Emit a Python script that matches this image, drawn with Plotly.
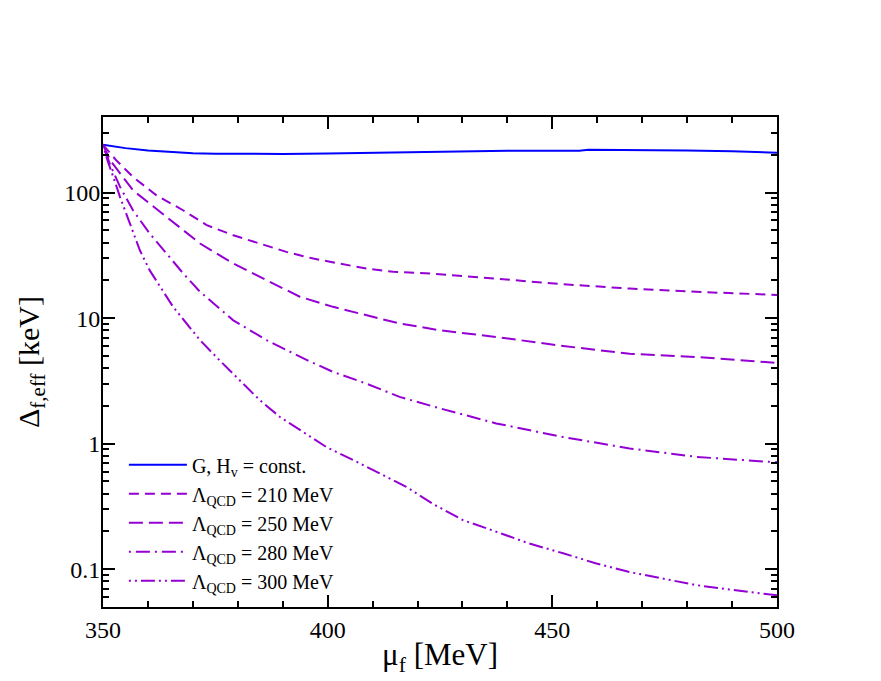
import plotly.graph_objects as go

# G, H_v = const.
mu_const = [350, 355, 360, 365, 370, 375, 380, 390, 400, 410, 420, 430, 433, 434, 436, 437, 440, 450, 456, 458, 460, 470, 480, 490, 500]
delta_const = [240, 226, 216, 210, 206, 204, 203, 203, 205, 208, 211, 213, 213, 216, 214, 216, 215, 215, 215, 219, 219, 218, 216, 213, 208]

# Lambda_QCD = 210 MeV
mu_210 = [350, 353, 356.7, 361.9, 367.9, 373.1, 379, 384.9, 390.8, 396.8, 402.7, 408.6, 414.6, 423.5, 437.5, 452.4, 467.2, 482, 500]
delta_210 = [240, 180, 133, 95, 72, 55, 45.7, 39.3, 33.7, 29.8, 27.2, 24.8, 23.4, 22.6, 20.6, 18.6, 17.2, 16.2, 15.3]

# Lambda_QCD = 250 MeV
mu_250 = [350, 351.6, 356.7, 364.2, 371.6, 379, 386.4, 393.8, 401.2, 408.6, 416, 425, 437.5, 452.4, 467.2, 482, 500]
delta_250 = [240, 181, 104, 64, 39.3, 27.2, 20, 14.8, 12.3, 10.5, 9.06, 8.0, 7.08, 6.0, 5.2, 4.9, 4.4]

# Lambda_QCD = 280 MeV
mu_280 = [350, 351.5, 353.8, 356.7, 360.4, 364.2, 367.9, 371.6, 379, 386.4, 395.3, 401.2, 408.6, 416, 425, 437.5, 452.4, 467.2, 482, 500]
delta_280 = [240, 170, 111, 72, 47.2, 32.7, 22.6, 16.2, 9.6, 6.67, 4.65, 3.73, 3.01, 2.36, 1.91, 1.45, 1.13, 0.916, 0.785, 0.71]

# Lambda_QCD = 300 MeV
mu_300 = [350, 351, 352.3, 353.8, 356, 358.2, 360.4, 362.7, 365.6, 368.6, 371.6, 376, 380.5, 384.9, 389.4, 393.8, 399.7,
          405.7, 411.6, 417.5, 423.5, 430.1, 437.5, 444.9, 452.4, 459.8, 467.2, 474.6, 482, 489.4, 500]
delta_300 = [240, 180, 133, 92, 56.6, 34.7, 24, 17.7, 12.3, 9.06, 6.67, 4.59, 3.2, 2.22, 1.63, 1.28, 0.94,
             0.74, 0.58, 0.453, 0.33, 0.246, 0.199, 0.16, 0.134, 0.111, 0.095, 0.0845, 0.0747, 0.069, 0.062]

y_tickvals = [0.1, 1, 10, 100]
y_ticktext = ["0.1", "1", "10", "100"]
y_minor = [m * 10 ** e for e in range(-2, 3) for m in range(2, 10)]

BLUE = "rgb(0, 0, 255)"
VIOLET = "rgb(148, 0, 211)"
FONT = "Liberation Serif, Times New Roman, DejaVu Serif, serif"

fig = go.Figure()

series = [
    (mu_const, delta_const, "G, H<sub>v</sub> = const.", BLUE, "solid"),
    (mu_210, delta_210, "Λ<sub>QCD</sub> = 210 MeV", VIOLET, "10px,6px"),
    (mu_250, delta_250, "Λ<sub>QCD</sub> = 250 MeV", VIOLET, "14px,6px"),
    (mu_280, delta_280, "Λ<sub>QCD</sub> = 280 MeV", VIOLET, "2px,5px,14px,5px"),
    (mu_300, delta_300, "Λ<sub>QCD</sub> = 300 MeV", VIOLET, "2px,4px,2px,4px,14px,4px"),
]
for x_i, y_i, name, color, dash in series:
    fig.add_trace(
        go.Scatter(
            x=x_i,
            y=y_i,
            mode="lines",
            name=name,
            line={"color": color, "width": 2, "dash": dash},
        )
    )

axis_style = {
    "ticks": "inside",
    "ticklen": 12,
    "tickwidth": 1.5,
    "tickcolor": "black",
    "showline": True,
    "linecolor": "black",
    "linewidth": 2,
    "mirror": "allticks",
    "showgrid": False,
    "zeroline": False,
    "tickfont": {"family": FONT, "size": 24, "color": "black"},
}

fig.update_xaxes(
    range=[350, 500],
    tickvals=[350, 400, 450, 500],
    minor={"dtick": 10, "ticks": "inside", "ticklen": 6, "tickcolor": "black", "tickwidth": 1.5},
    title={"text": "μ<sub>f</sub> [MeV]", "font": {"family": FONT, "size": 31, "color": "black"}, "standoff": 2},
    **axis_style,
)
fig.update_yaxes(
    type="log",
    range=[-1.301, 2.602],
    tickvals=y_tickvals,
    ticktext=y_ticktext,
    ticklabelstandoff=-4,
    minor={"tickvals": y_minor, "ticks": "inside", "ticklen": 6, "tickcolor": "black", "tickwidth": 1.5},
    title={"text": "Δ<sub>f,eff</sub> [keV]", "font": {"family": FONT, "size": 30, "color": "black"}, "standoff": 16},
    **axis_style,
)

# page body adds ~8px offset, so the figure is a bit smaller than the window
fig.update_layout(
    width=873,
    height=673,
    margin={"l": 95, "r": 104, "t": 109, "b": 74, "autoexpand": False},
    plot_bgcolor="white",
    paper_bgcolor="white",
    showlegend=True,
    legend={
        "x": 0.031,
        "y": 0.33,
        "xanchor": "left",
        "yanchor": "top",
        "bgcolor": "rgba(0,0,0,0)",
        "font": {"family": FONT, "size": 20, "color": "black"},
        "itemwidth": 58,
        "tracegroupgap": 0,
    },
)

fig.write_html("out.html")
